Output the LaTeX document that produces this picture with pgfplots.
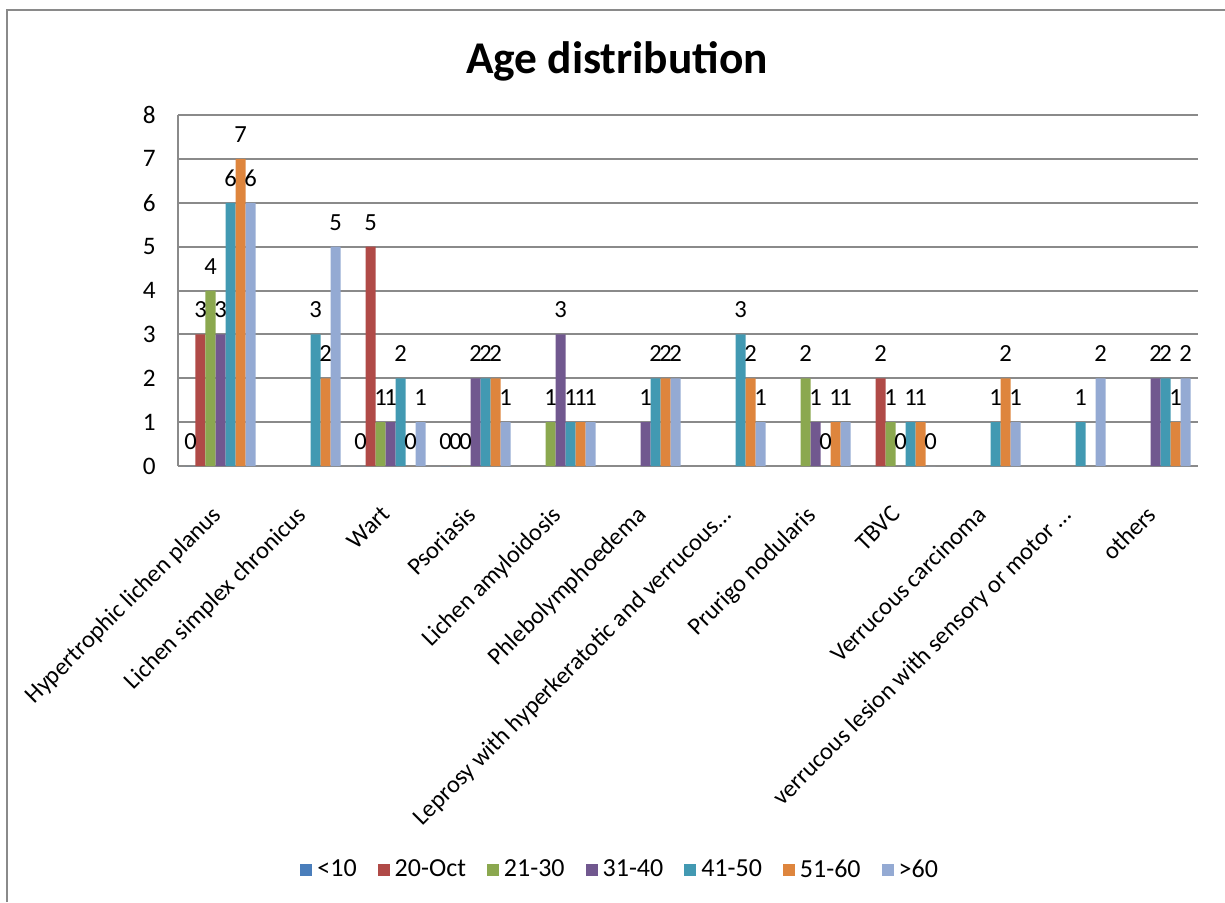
\documentclass[border=0pt]{standalone}
\usepackage{pgfplots}
\pgfplotsset{compat=1.18}
\usepackage{fontspec}
\setmainfont{Carlito}
\definecolor{cA}{HTML}{4A7EBB}
\definecolor{cB}{HTML}{B04A47}
\definecolor{cC}{HTML}{8BA84F}
\definecolor{cD}{HTML}{71588F}
\definecolor{cE}{HTML}{4299B2}
\definecolor{cF}{HTML}{DE853D}
\definecolor{cG}{HTML}{94AAD3}
\definecolor{gridc}{HTML}{8A8A8A}
\begin{document}
\begin{tikzpicture}
\useasboundingbox (0,0) rectangle (612.5pt,451pt);
\draw[gridc, line width=1.2pt] (3.5pt,0) -- (3.5pt,446pt) -- (613pt,446pt);
\node[font=\fontsize{22.7}{26}\selectfont\bfseries] at (308.5pt,420.5pt) {Age distribution};
\begin{axis}[
  at={(89pt,218pt)}, anchor=south west,
  scale only axis, width=510pt, height=175.5pt,
  ybar=0pt, bar width=5pt,
  xmin=-0.5, xmax=11.5, ymin=0, ymax=8,
  xtick={0,...,11},
  xticklabels={Hypertrophic lichen planus, Lichen simplex chronicus, Wart, Psoriasis, Lichen amyloidosis, Phlebolymphoedema, Leprosy with hyperkeratotic and verrucous…, Prurigo nodularis, TBVC, Verrucous carcinoma, verrucous lesion with sensory or motor …, others},
  ytick={0,...,8},
  axis lines*=left,
  axis line style={gridc, line width=1pt},
  ymajorgrids, grid style={gridc, line width=1pt},
  major tick length=0pt,
  /pgf/number format/assume math mode=true,
  tick label style={font=\fontsize{12.6}{15}\selectfont},
  xticklabel style={font=\fontsize{12.2}{14}\selectfont, rotate=45, anchor=north east, inner sep=0pt, xshift=-16.97pt, yshift=-9.92pt},
  yticklabel style={inner sep=0pt, xshift=-11pt},
  nodes near coords,
  every node near coord/.append style={font=\fontsize{12.3}{14}\selectfont, inner sep=0pt, anchor=south, yshift=8pt},
  legend columns=7,
  legend style={at={(0.435,-1.151)}, anchor=center, draw=none, font=\fontsize{13}{15}\selectfont,
    /tikz/every even column/.append style={column sep=8pt}, nodes={inner sep=2.5pt}},
  legend image code/.code={\fill[#1] (0pt,-3pt) rectangle (6pt,3pt);},
]
\addplot[fill=cA, draw=none] coordinates {(0,0) (2,0) (3,0)};
\addplot[fill=cB, draw=none] coordinates {(0,3) (2,5) (3,0) (8,2)};
\addplot[fill=cC, draw=none] coordinates {(0,4) (2,1) (3,0) (4,1) (7,2) (8,1)};
\addplot[fill=cD, draw=none] coordinates {(0,3) (2,1) (3,2) (4,3) (5,1) (7,1) (8,0) (11,2)};
\addplot[fill=cE, draw=none] coordinates {(0,6) (1,3) (2,2) (3,2) (4,1) (5,2) (6,3) (7,0) (8,1) (9,1) (10,1) (11,2)};
\addplot[fill=cF, draw=none] coordinates {(0,7) (1,2) (2,0) (3,2) (4,1) (5,2) (6,2) (7,1) (8,1) (9,2) (11,1)};
\addplot[fill=cG, draw=none] coordinates {(0,6) (1,5) (2,1) (3,1) (4,1) (5,2) (6,1) (7,1) (8,0) (9,1) (10,2) (11,2)};
\legend{<10, 20-Oct, 21-30, 31-40, 41-50, 51-60, >60}
\end{axis}
\end{tikzpicture}
\end{document}
